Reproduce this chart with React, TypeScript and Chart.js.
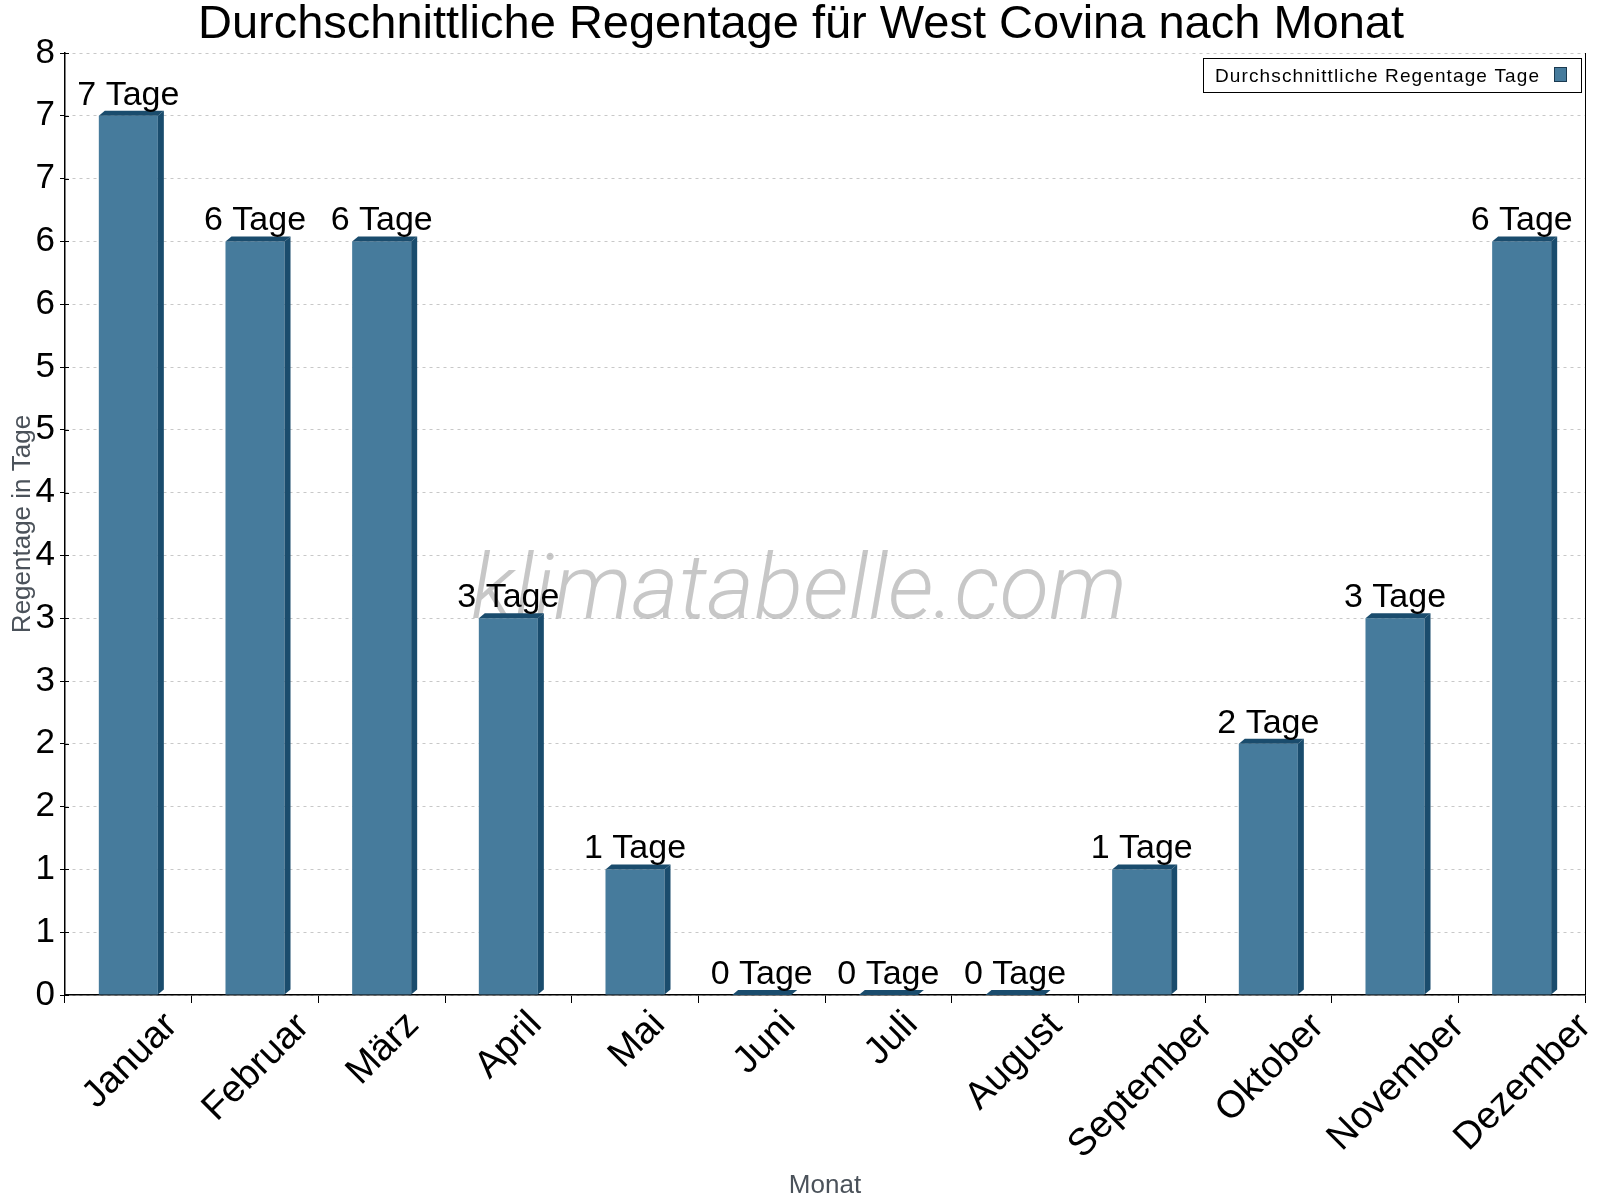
import React, { useEffect, useRef } from "react";
import { Chart, registerables } from "chart.js";

Chart.register(...registerables);

const chartTitle = "Durchschnittliche Regentage für West Covina nach Monat";
const legendLabel = "Durchschnittliche Regentage Tage";
const xAxisTitle = "Monat";
const yAxisTitle = "Regentage in Tage";
const watermarkText = "klimatabelle.com";
const unitSuffix = "Tage";

const months = [
  "Januar",
  "Februar",
  "März",
  "April",
  "Mai",
  "Juni",
  "Juli",
  "August",
  "September",
  "Oktober",
  "November",
  "Dezember",
];
const rainDays = [7, 6, 6, 3, 1, 0, 0, 0, 1, 2, 3, 6];
const yMin = 0;
const yMax = 7.5;
const yStep = 0.5;

const FONT = "'Liberation Sans', Arial, Helvetica, sans-serif";
const FACE = "#467b9c";
const DARK = "#1a4c6d";
const AXIS_GRAY = "#4b525a";
const DX = 6;
const DY = 5;

const decorPlugin = {
  id: "decor",
  beforeDatasetsDraw(chart: any) {
    const ctx = chart.ctx;
    ctx.save();
    let size = 88;
    ctx.font = `italic 300 ${size}px Roboto, ${FONT}`;
    const w = ctx.measureText(watermarkText).width;
    size = (size * 656) / w;
    ctx.font = `italic 300 ${size}px Roboto, ${FONT}`;
    ctx.fillStyle = "rgba(175,175,175,0.7)";
    ctx.textAlign = "center";
    ctx.textBaseline = "alphabetic";
    ctx.fillText(watermarkText, 799, 618);
    ctx.restore();
  },
  afterDatasetsDraw(chart: any) {
    const ctx = chart.ctx;
    const meta = chart.getDatasetMeta(0);
    ctx.save();
    meta.data.forEach((el: any, i: number) => {
      const { x, y, base, width } = el.getProps(["x", "y", "base", "width"], true);
      const x0 = x - width / 2;
      const x1 = x + width / 2;
      ctx.fillStyle = DARK;
      ctx.beginPath();
      ctx.moveTo(x0, y);
      ctx.lineTo(x0 + DX, y - DY);
      ctx.lineTo(x1 + DX, y - DY);
      ctx.lineTo(x1, y);
      ctx.closePath();
      ctx.fill();
      if (base - y > 0.5) {
        ctx.beginPath();
        ctx.moveTo(x1, y);
        ctx.lineTo(x1 + DX, y - DY);
        ctx.lineTo(x1 + DX, base - DY);
        ctx.lineTo(x1, base);
        ctx.closePath();
        ctx.fill();
      }
      ctx.fillStyle = "#000";
      ctx.font = `34px ${FONT}`;
      ctx.textAlign = "center";
      ctx.textBaseline = "alphabetic";
      ctx.fillText(`${Math.round(rainDays[i])} ${unitSuffix}`, x, y - 11);
    });
    ctx.restore();
  },
  afterDraw(chart: any) {
    const ctx = chart.ctx;
    const area = chart.chartArea;
    const xs = chart.scales.x;
    const ys = chart.scales.y;
    ctx.save();

    // right frame line
    ctx.strokeStyle = "#000";
    ctx.lineWidth = 1;
    ctx.beginPath();
    ctx.moveTo(Math.round(area.right) + 0.5, area.top);
    ctx.lineTo(Math.round(area.right) + 0.5, area.bottom);
    ctx.stroke();

    // inner y tick marks
    ys.ticks.forEach((t: any) => {
      const py = Math.round(ys.getPixelForValue(t.value)) + 0.5;
      ctx.beginPath();
      ctx.moveTo(area.left, py);
      ctx.lineTo(area.left + 4, py);
      ctx.stroke();
    });

    // title
    ctx.fillStyle = "#000";
    ctx.font = `47px ${FONT}`;
    ctx.textAlign = "center";
    ctx.textBaseline = "alphabetic";
    ctx.fillText(chartTitle, 801, 38);

    // axis titles
    ctx.fillStyle = AXIS_GRAY;
    ctx.font = `26px ${FONT}`;
    ctx.fillText(xAxisTitle, (area.left + area.right) / 2, 1193);
    ctx.save();
    ctx.translate(30, (area.top + area.bottom) / 2);
    ctx.rotate(-Math.PI / 2);
    ctx.textBaseline = "alphabetic";
    ctx.fillText(yAxisTitle, 0, 0);
    ctx.restore();

    // x labels rotated, bbox top-centered on tick
    ctx.fillStyle = "#000";
    ctx.font = `38px ${FONT}`;
    ctx.textAlign = "left";
    ctx.textBaseline = "alphabetic";
    const c = Math.SQRT1_2;
    months.forEach((label, i) => {
      const m = ctx.measureText(label);
      const bl = m.actualBoundingBoxLeft;
      const br = m.actualBoundingBoxRight;
      const asc = m.actualBoundingBoxAscent;
      const desc = m.actualBoundingBoxDescent;
      const xmin = (-bl - asc) * c;
      const xmax = (br + desc) * c;
      const ymin = (-br - asc) * c;
      const tx = xs.getPixelForValue(i);
      const ox = tx - (xmin + xmax) / 2;
      const oy = area.bottom + 13 - ymin;
      ctx.save();
      ctx.translate(ox, oy);
      ctx.rotate(-Math.PI / 4);
      ctx.fillText(label, 0, 0);
      ctx.restore();
    });

    // legend
    const lx0 = 1203,
      ly0 = 58,
      lx1 = 1581,
      ly1 = 92;
    ctx.fillStyle = "#fff";
    ctx.fillRect(lx0, ly0, lx1 - lx0, ly1 - ly0);
    ctx.strokeStyle = "#000";
    ctx.lineWidth = 1;
    ctx.strokeRect(lx0 + 0.5, ly0 + 0.5, lx1 - lx0, ly1 - ly0);
    ctx.fillStyle = "#000";
    ctx.font = `19px ${FONT}`;
    const lw = ctx.measureText(legendLabel).width;
    const spacing = Math.max(0, (324 - lw) / (legendLabel.length - 1));
    try {
      (ctx as any).letterSpacing = `${spacing}px`;
    } catch (e) {}
    ctx.textAlign = "left";
    ctx.fillText(legendLabel, 1215, 82);
    try {
      (ctx as any).letterSpacing = "0px";
    } catch (e) {}
    ctx.fillStyle = FACE;
    ctx.fillRect(1554, 67, 13, 15);
    ctx.strokeStyle = "#1a3a50";
    ctx.strokeRect(1554.5, 67.5, 12, 14);

    ctx.restore();
  },
};

export default function App() {
  const canvasRef = useRef<HTMLCanvasElement | null>(null);

  useEffect(() => {
    const canvas = canvasRef.current;
    if (!canvas) return;
    const chart = new Chart(canvas, {
      type: "bar",
      data: {
        labels: months,
        datasets: [
          {
            label: legendLabel,
            data: rainDays,
            backgroundColor: FACE,
            borderWidth: 0,
            barPercentage: 0.466,
            categoryPercentage: 1,
          },
        ],
      },
      plugins: [decorPlugin],
      options: {
        responsive: false,
        animation: false,
        devicePixelRatio: 1,
        layout: { padding: { top: 53, right: 15, left: 0, bottom: 0 } },
        plugins: {
          legend: { display: false },
          title: { display: false },
          tooltip: { enabled: false },
        },
        scales: {
          x: {
            type: "category",
            offset: true,
            grid: {
              offset: true,
              drawOnChartArea: false,
              drawTicks: true,
              tickLength: 8,
              tickColor: "#000",
              tickWidth: 1,
            },
            border: { display: true, color: "#000", width: 1.5 },
            ticks: {
              display: true,
              autoSkip: false,
              maxRotation: 0,
              minRotation: 0,
              color: "rgba(0,0,0,0)",
              font: { size: 10 },
            },
            afterFit(scale: any) {
              scale.height = 205;
            },
          },
          y: {
            type: "linear",
            min: yMin,
            max: yMax,
            grid: {
              color: "#c8c8c8",
              lineWidth: 1,
              drawTicks: true,
              tickLength: 5,
              tickColor: "#000",
              tickWidth: 1,
              tickBorderDash: [],
            },
            border: { display: true, color: "#000", width: 1.5, dash: [3, 4] },
            ticks: {
              stepSize: yStep,
              padding: 5,
              color: "#000",
              font: { family: FONT, size: 35 },
              callback: (v: any) => String(Math.round(Number(v))),
            },
            afterFit(scale: any) {
              scale.width = 65;
            },
          },
        },
      },
    });
    return () => chart.destroy();
  }, []);

  return (
    <div style={{ position: "absolute", left: 0, top: 0, width: 1600, height: 1200, background: "#fff" }}>
      <canvas ref={canvasRef} width={1600} height={1200} style={{ width: 1600, height: 1200 }} />
    </div>
  );
}
